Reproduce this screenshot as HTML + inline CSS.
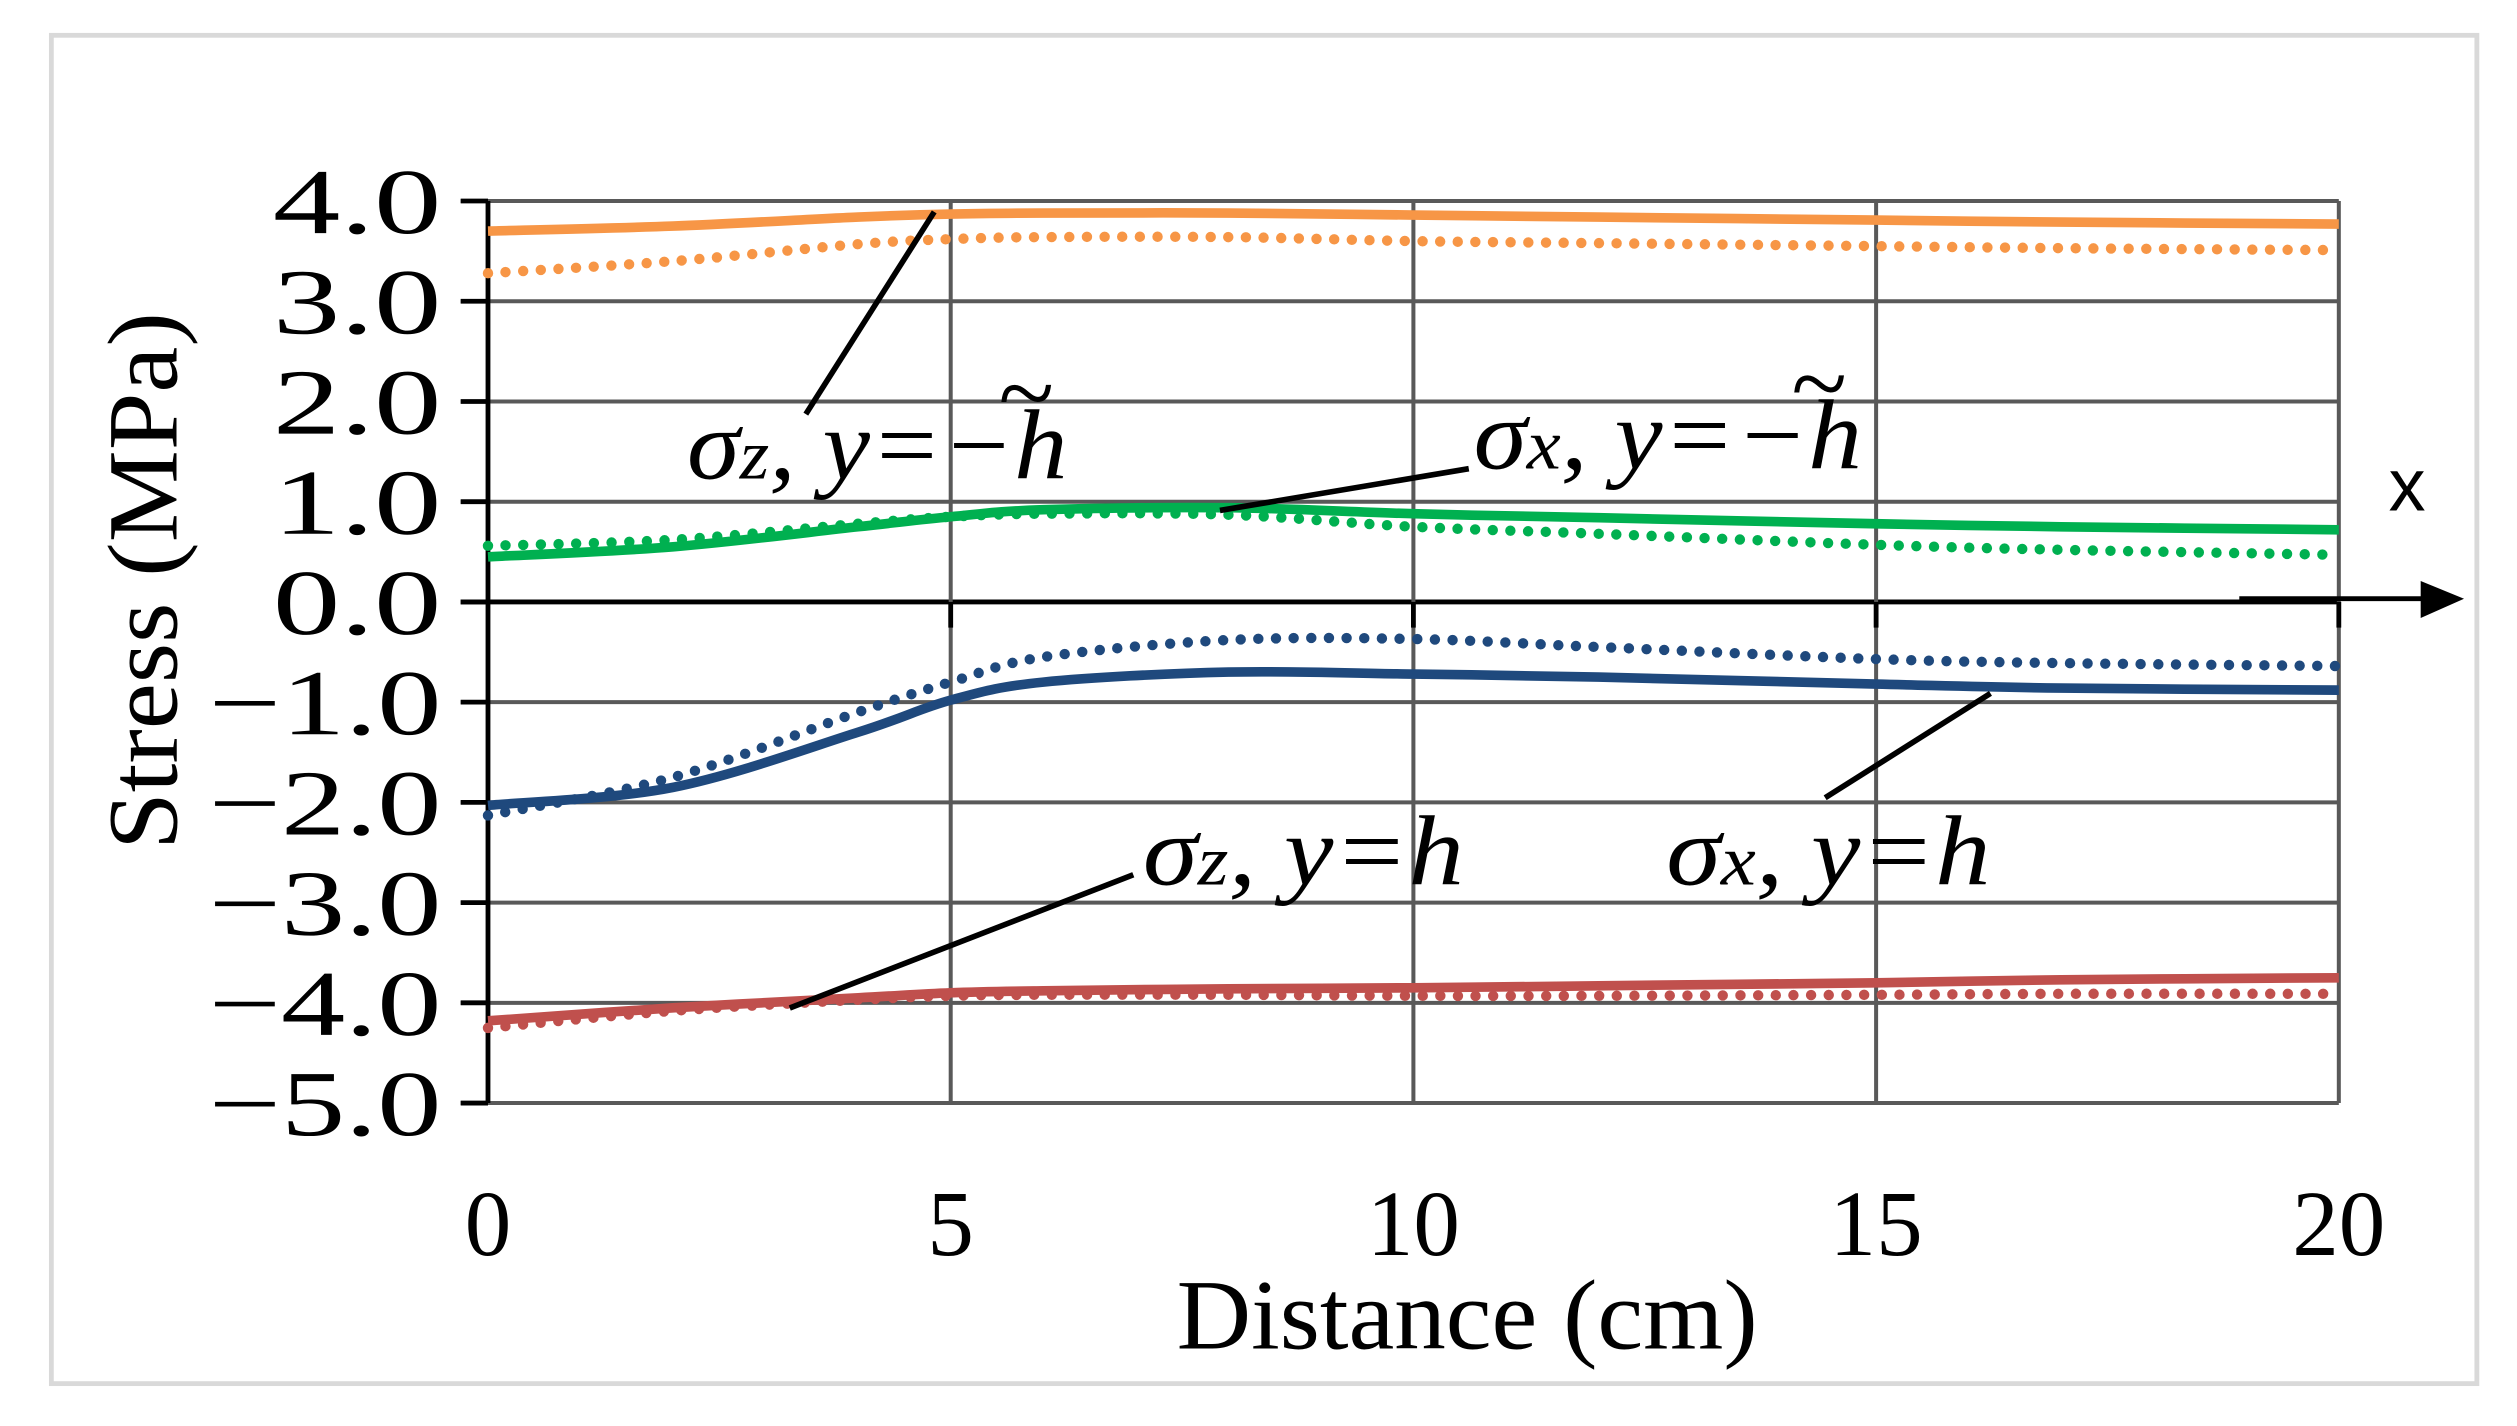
<!DOCTYPE html>
<html><head><meta charset="utf-8">
<style>
html,body{margin:0;padding:0;background:#fff;}
svg{display:block;}
text{font-family:"Liberation Serif",serif;fill:#000;}
</style></head>
<body>
<svg id="chart" width="2517" height="1426" viewBox="0 0 1568 888.4" preserveAspectRatio="none" xmlns="http://www.w3.org/2000/svg">
<rect x="32" y="22" width="1511" height="840" fill="#fff" stroke="#d9d9d9" stroke-width="3"/>
<g id="grid"></g>
<g id="series"></g>
<g id="annot" stroke="#000" stroke-width="3.5">
<line x1="502" y1="258" x2="582" y2="132"/>
<line x1="760" y1="318" x2="915" y2="292"/>
<line x1="1137" y1="497" x2="1240" y2="432"/>
<line x1="492" y1="628" x2="706" y2="545"/>
</g>
<g font-style="italic" font-size="62">
<text x="428" y="298" textLength="237" lengthAdjust="spacingAndGlyphs">σ<tspan font-size="44">z</tspan>, y=−h</text>
<text x="622" y="266" font-size="64" font-style="normal">~</text>
<text x="918" y="292" textLength="242" lengthAdjust="spacingAndGlyphs">σ<tspan font-size="44">x</tspan>, y=−h</text>
<text x="1116" y="260" font-size="64" font-style="normal">~</text>
<text x="712" y="551" textLength="200" lengthAdjust="spacingAndGlyphs">σ<tspan font-size="44">z</tspan>, y=h</text>
<text x="1038" y="551" textLength="202" lengthAdjust="spacingAndGlyphs">σ<tspan font-size="44">x</tspan>, y=h</text>
</g>
<text x="1488" y="318" font-size="46" style="font-family:'Liberation Sans',sans-serif">x</text>
<g>
<line x1="1395" y1="373" x2="1510" y2="373" stroke="#000" stroke-width="3"/>
<polygon points="1508,362 1535,373 1508,385" fill="#000"/>
</g>
<text x="733" y="840" font-size="62" textLength="362" lengthAdjust="spacingAndGlyphs">Distance (cm)</text>
<text x="0" y="0" font-size="62" text-anchor="middle" textLength="335" lengthAdjust="spacingAndGlyphs" transform="translate(110,362) rotate(-90)">Stress (MPa)</text>
</svg>
<script>
const distances=[0,2,4,5,6,8,10,12,15,17,20];
const sigmaZTopSolid=[3.70,3.75,3.84,3.87,3.88,3.88,3.86,3.84,3.81,3.79,3.77];
const sigmaZTopDotted=[3.28,3.40,3.57,3.62,3.64,3.64,3.60,3.58,3.55,3.53,3.51];
const sigmaXTopSolid=[0.45,0.55,0.75,0.85,0.92,0.94,0.88,0.84,0.78,0.75,0.72];
const sigmaXTopDotted=[0.56,0.62,0.78,0.85,0.88,0.87,0.75,0.68,0.57,0.52,0.47];
const sigmaXBotSolid=[-2.03,-1.85,-1.3,-0.98,-0.8,-0.7,-0.72,-0.75,-0.82,-0.86,-0.88];
const sigmaXBotDotted=[-2.13,-1.75,-1.1,-0.8,-0.55,-0.38,-0.37,-0.45,-0.57,-0.61,-0.64];
const sigmaZBotSolid=[-4.18,-4.05,-3.95,-3.9,-3.88,-3.86,-3.85,-3.83,-3.8,-3.77,-3.75];
const sigmaZBotDotted=[-4.25,-4.08,-3.97,-3.93,-3.92,-3.92,-3.93,-3.93,-3.92,-3.91,-3.91];
const yTicks=[4,3,2,1,0,-1,-2,-3,-4,-5];
const yTickLabels=["4.0","3.0","2.0","1.0","0.0","−1.0","−2.0","−3.0","−4.0","−5.0"];
const xTicks=[0,5,10,15,20];
const xTickLabels=["0","5","10","15","20"];

const NS="http://www.w3.org/2000/svg";
function X(v){return 304+(v-0)*(1457-304)/20;}
function Y(v){return 375-v*62.44;}
function mk(tag,attrs,parent){const e=document.createElementNS(NS,tag);for(const k in attrs)e.setAttribute(k,attrs[k]);parent.appendChild(e);return e;}
const grid=document.getElementById('grid');
yTicks.forEach((t,i)=>{
  const l=mk('line',{x1:287,x2:1457,y1:Y(t),y2:Y(t),stroke:t===0?'#000':'#595959','stroke-width':t===0?3:2.5},grid);
  
  
  const tk=mk('line',{x1:287,x2:304,y1:Y(t),y2:Y(t),stroke:'#000','stroke-width':3},grid);
  
  
  const lab=yTickLabels[i];
  const w=lab.length===3?105:145;
  const tx=mk('text',{x:275-w,y:Y(t)+20,'font-size':58,textLength:w,lengthAdjust:'spacingAndGlyphs'},grid);
  tx.textContent=lab;
  
  
});
xTicks.forEach((t,i)=>{
  if(t>0){
    const l=mk('line',{x1:X(t),x2:X(t),y1:Y(4),y2:Y(-5),stroke:'#595959','stroke-width':2.5},grid);
    
    
    const tk=mk('line',{x1:X(t),x2:X(t),y1:Y(0),y2:Y(0)+16,stroke:'#000','stroke-width':3},grid);
    
    
  }
  const tx=mk('text',{x:X(t),y:782,'font-size':58,'text-anchor':'middle'},grid);
  tx.textContent=xTickLabels[i];
  
  
});
const ax=mk('line',{x1:X(0),x2:X(0),y1:Y(4),y2:Y(-5),stroke:'#000','stroke-width':3},grid);



function pathFor(vals){
  const p=distances.map((d,i)=>[X(d),Y(vals[i])]);
  let s='M'+p[0][0]+','+p[0][1];
  for(let i=0;i<p.length-1;i++){
    const p0=p[i-1]||p[i],p1=p[i],p2=p[i+1],p3=p[i+2]||p[i+1];
    const c1=[p1[0]+(p2[0]-p0[0])/6,p1[1]+(p2[1]-p0[1])/6];
    const c2=[p2[0]-(p3[0]-p1[0])/6,p2[1]-(p3[1]-p1[1])/6];
    s+=' C'+c1[0]+','+c1[1]+' '+c2[0]+','+c2[1]+' '+p2[0]+','+p2[1];
  }
  return s;
}
const series=document.getElementById('series');
const defs=[
 [sigmaZTopDotted,'#f79646',true,'sigma-z-top-dotted'],
 [sigmaZTopSolid,'#f79646',false,'sigma-z-top-solid'],
 [sigmaXTopDotted,'#00b050',true,'sigma-x-top-dotted'],
 [sigmaXTopSolid,'#00b050',false,'sigma-x-top-solid'],
 [sigmaXBotDotted,'#1f497d',true,'sigma-x-bottom-dotted'],
 [sigmaXBotSolid,'#1f497d',false,'sigma-x-bottom-solid'],
 [sigmaZBotDotted,'#c0504d',true,'sigma-z-bottom-dotted'],
 [sigmaZBotSolid,'#c0504d',false,'sigma-z-bottom-solid']
];
defs.forEach(d=>{
  const a={d:pathFor(d[0]),fill:'none',stroke:d[1],'stroke-width':6};
  if(d[2]){a['stroke-dasharray']='0 11';a['stroke-linecap']='round';a['stroke-width']=6.5;}
  const e=mk('path',a,series);
  
  
});
</script>
</body></html>
